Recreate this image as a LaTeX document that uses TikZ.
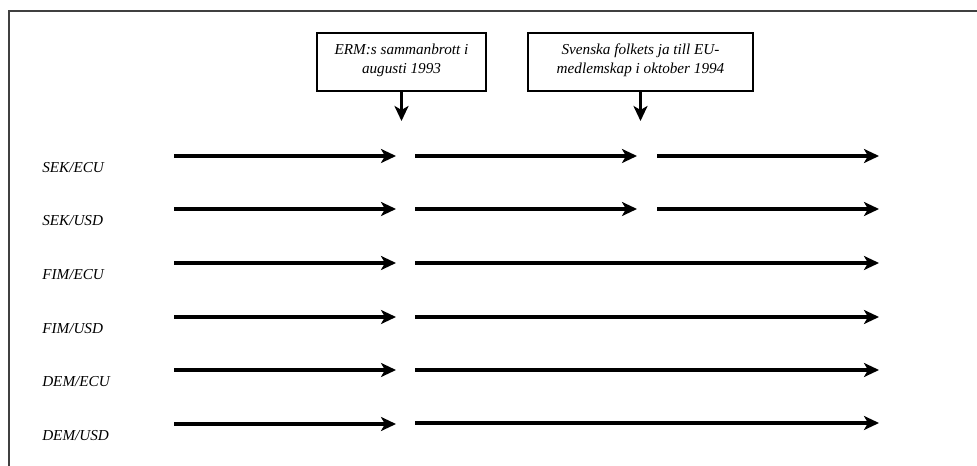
\documentclass[tikz,border=0pt]{standalone}
\usepackage{fontspec}
\setmainfont{Liberation Serif}
\usetikzlibrary{arrows.meta}
\begin{document}
\begin{tikzpicture}[x=0.75pt,y=-0.75pt,
 lbl/.style={font=\fontsize{11.4}{13}\selectfont\itshape, anchor=west, inner sep=0pt},
 evbox/.style={draw, line width=1pt, inner sep=0pt},
 evtext/.style={font=\fontsize{11.4}{14.2}\selectfont\itshape, align=center, inner sep=0pt},
 arr/.style={line width=2.5pt, -{Stealth[length=11.25pt,width=10.5pt,inset=3pt]}},
 frame/.style={line width=1.5pt, draw=black!75}]
\useasboundingbox (0,0) rectangle (977,466);
\draw[frame] (9,466) -- (9,11) -- (977,11);

% event boxes
\node[evbox, minimum width=126.75pt, minimum height=43.5pt] (b1) at (401.5,62) {};
\node[evtext] (t1) at (401.5,60) {ERM:s sammanbrott i\\augusti 1993};
\node[evbox, minimum width=168.75pt, minimum height=43.5pt] (b2) at (640.5,62) {};
\node[evtext] (t2) at (640.5,60) {Svenska folkets ja till EU-\\medlemskap i oktober 1994};
\coordinate (v1) at (401.5,121);
\coordinate (v2) at (640.5,121);
\draw[arr] (b1.south) -- (v1);
\draw[arr] (b2.south) -- (v2);

% labels
\node[lbl] (l1) at (42,168) {SEK/ECU};
\node[lbl] (l2) at (42,221) {SEK/USD};
\node[lbl] (l3) at (42,275) {FIM/ECU};
\node[lbl] (l4) at (42,329) {FIM/USD};
\node[lbl] (l5) at (42,382) {DEM/ECU};
\node[lbl] (l6) at (42,436) {DEM/USD};

% row 1
\coordinate (r1a) at (174,156); \coordinate (r1b) at (396,156);
\coordinate (r1c) at (415,156); \coordinate (r1d) at (637,156);
\coordinate (r1e) at (657,156); \coordinate (r1f) at (879,156);
\draw[arr] (r1a) -- (r1b);
\draw[arr] (r1c) -- (r1d);
\draw[arr] (r1e) -- (r1f);
% row 2
\coordinate (r2a) at (174,209); \coordinate (r2b) at (396,209);
\coordinate (r2c) at (415,209); \coordinate (r2d) at (637,209);
\coordinate (r2e) at (657,209); \coordinate (r2f) at (879,209);
\draw[arr] (r2a) -- (r2b);
\draw[arr] (r2c) -- (r2d);
\draw[arr] (r2e) -- (r2f);
% rows 3-6
\coordinate (r3a) at (174,263); \coordinate (r3b) at (396,263);
\coordinate (r3c) at (415,263); \coordinate (r3d) at (879,263);
\draw[arr] (r3a) -- (r3b);
\draw[arr] (r3c) -- (r3d);
\coordinate (r4a) at (174,317); \coordinate (r4b) at (396,317);
\coordinate (r4c) at (415,317); \coordinate (r4d) at (879,317);
\draw[arr] (r4a) -- (r4b);
\draw[arr] (r4c) -- (r4d);
\coordinate (r5a) at (174,370); \coordinate (r5b) at (396,370);
\coordinate (r5c) at (415,370); \coordinate (r5d) at (879,370);
\draw[arr] (r5a) -- (r5b);
\draw[arr] (r5c) -- (r5d);
\coordinate (r6a) at (174,424); \coordinate (r6b) at (396,424);
\coordinate (r6c) at (415,423); \coordinate (r6d) at (879,423);
\draw[arr] (r6a) -- (r6b);
\draw[arr] (r6c) -- (r6d);
\end{tikzpicture}
\end{document}
